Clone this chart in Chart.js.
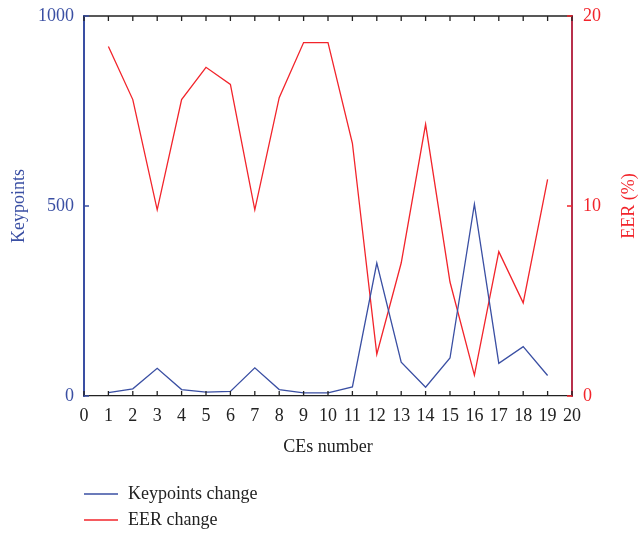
<!DOCTYPE html>
<html>
<head>
<meta charset="utf-8">
<script src="https://cdn.jsdelivr.net/npm/chart.js@4.4.0/dist/chart.umd.min.js"></script>
<style>
  html, body { margin: 0; padding: 0; background: #fff; }
  #wrap { width: 638px; height: 533px; }
</style>
</head>
<body>
<div id="wrap"><canvas id="ceChart" width="638" height="533"></canvas></div>
<script>
const ceNumbers = [1, 2, 3, 4, 5, 6, 7, 8, 9, 10, 11, 12, 13, 14, 15, 16, 17, 18, 19];
const keypointsChange = [9, 19, 73, 17, 10, 12, 74, 17, 8, 8, 24, 350, 89, 23, 100, 505, 86, 130, 54];
const eerChange = [18.4, 15.6, 9.8, 15.6, 17.3, 16.4, 9.8, 15.7, 18.6, 18.6, 13.3, 2.2, 7.0, 14.3, 6.0, 1.1, 7.6, 4.9, 11.4];
const xTicks = [0, 1, 2, 3, 4, 5, 6, 7, 8, 9, 10, 11, 12, 13, 14, 15, 16, 17, 18, 19, 20];
const keypointTicks = [0, 500, 1000];
const eerTicks = [0, 10, 20];

const BLUE = '#3a4fa3';
const RED = '#f2242b';
const CRIMSON = '#b8304c';
const FONT = "'Liberation Serif', 'Times New Roman', serif";

// inward tick marks + top frame line
const frameTicks = {
  id: 'frameTicks',
  afterDatasetsDraw(chart) {
    const { ctx, chartArea: a, scales } = chart;
    ctx.save();
    ctx.lineWidth = 1.3;
    ctx.strokeStyle = '#222';
    ctx.beginPath();
    ctx.moveTo(a.left, a.top);
    ctx.lineTo(a.right, a.top);
    xTicks.forEach(v => {
      const px = scales.x.getPixelForValue(v);
      ctx.moveTo(px, a.bottom);
      ctx.lineTo(px, a.bottom - 5);
      ctx.moveTo(px, a.top);
      ctx.lineTo(px, a.top + 5);
    });
    ctx.stroke();

    ctx.strokeStyle = BLUE;
    ctx.beginPath();
    keypointTicks.forEach(v => {
      const py = scales.y.getPixelForValue(v);
      ctx.moveTo(a.left, py);
      ctx.lineTo(a.left + 5, py);
    });
    ctx.stroke();

    ctx.strokeStyle = RED;
    ctx.beginPath();
    eerTicks.forEach(v => {
      const py = scales.y1.getPixelForValue(v);
      ctx.moveTo(a.right, py);
      ctx.lineTo(a.right - 5, py);
    });
    ctx.stroke();
    ctx.restore();
  }
};

// right title reads bottom-to-top, like the left one
const rightTitle = {
  id: 'rightTitle',
  afterDraw(chart) {
    const { ctx, chartArea: a } = chart;
    ctx.save();
    ctx.translate(629, (a.top + a.bottom) / 2);
    ctx.rotate(-Math.PI / 2);
    ctx.font = '18px ' + FONT;
    ctx.fillStyle = RED;
    ctx.textAlign = 'center';
    ctx.textBaseline = 'middle';
    ctx.fillText('EER (%)', 0, 0);
    ctx.restore();
  }
};

// legend stacked vertically under the axis title
const stackedLegend = {
  id: 'stackedLegend',
  afterDraw(chart) {
    const { ctx } = chart;
    const rows = [
      { text: 'Keypoints change', color: BLUE, y: 494 },
      { text: 'EER change', color: RED, y: 520 }
    ];
    ctx.save();
    ctx.font = '18px ' + FONT;
    ctx.textBaseline = 'middle';
    ctx.textAlign = 'left';
    rows.forEach(r => {
      ctx.strokeStyle = r.color;
      ctx.lineWidth = 1.3;
      ctx.beginPath();
      ctx.moveTo(84, r.y);
      ctx.lineTo(118, r.y);
      ctx.stroke();
      ctx.fillStyle = '#222';
      ctx.fillText(r.text, 128, r.y);
    });
    ctx.restore();
  }
};

const ctx = document.getElementById('ceChart').getContext('2d');
const ceChart = new Chart(ctx, {
  type: 'line',
  data: {
    datasets: [{
      label: 'Keypoints change',
      data: ceNumbers.map((x, i) => ({ x: x, y: keypointsChange[i] })),
      borderColor: BLUE,
      borderWidth: 1.3,
      pointRadius: 0,
      tension: 0,
      yAxisID: 'y'
    }, {
      label: 'EER change',
      data: ceNumbers.map((x, i) => ({ x: x, y: eerChange[i] })),
      borderColor: RED,
      borderWidth: 1.3,
      pointRadius: 0,
      tension: 0,
      yAxisID: 'y1'
    }]
  },
  options: {
    responsive: false,
    animation: false,
    layout: { padding: { top: 16, bottom: 75, left: 0, right: 0 } },
    plugins: {
      legend: { display: false },
      tooltip: { enabled: false }
    },
    scales: {
      x: {
        type: 'linear',
        min: 0,
        max: 20,
        afterBuildTicks: s => { s.ticks = xTicks.map(v => ({ value: v })); },
        afterFit: s => { s.height = 62; },
        grid: { display: false, drawTicks: false },
        border: { color: '#222', width: 1.3 },
        ticks: { color: '#222', padding: 9, maxRotation: 0, autoSkip: false, font: { family: FONT, size: 18 } },
        title: { display: true, text: 'CEs number', color: '#222', padding: 0, font: { family: FONT, size: 18 } }
      },
      y: {
        position: 'left',
        min: 0,
        max: 1000,
        afterBuildTicks: s => { s.ticks = keypointTicks.map(v => ({ value: v })); },
        afterFit: s => { s.width = 84; s.paddingTop = 0; s.paddingBottom = 0; },
        grid: { display: false, drawTicks: false },
        border: { color: BLUE, width: 2 },
        ticks: { color: BLUE, padding: 10, callback: v => String(v), font: { family: FONT, size: 18 } },
        title: { display: true, text: 'Keypoints', color: BLUE, padding: { top: 8, bottom: 0 }, font: { family: FONT, size: 18 } }
      },
      y1: {
        position: 'right',
        min: 0,
        max: 20,
        afterBuildTicks: s => { s.ticks = eerTicks.map(v => ({ value: v })); },
        afterFit: s => { s.width = 66; s.paddingTop = 0; s.paddingBottom = 0; },
        grid: { display: false, drawTicks: false },
        border: { color: CRIMSON, width: 2 },
        ticks: { color: RED, padding: 11, callback: v => String(v), font: { family: FONT, size: 18 } },
        title: { display: false }
      }
    }
  },
  plugins: [frameTicks, rightTitle, stackedLegend]
});
</script>
</body>
</html>
